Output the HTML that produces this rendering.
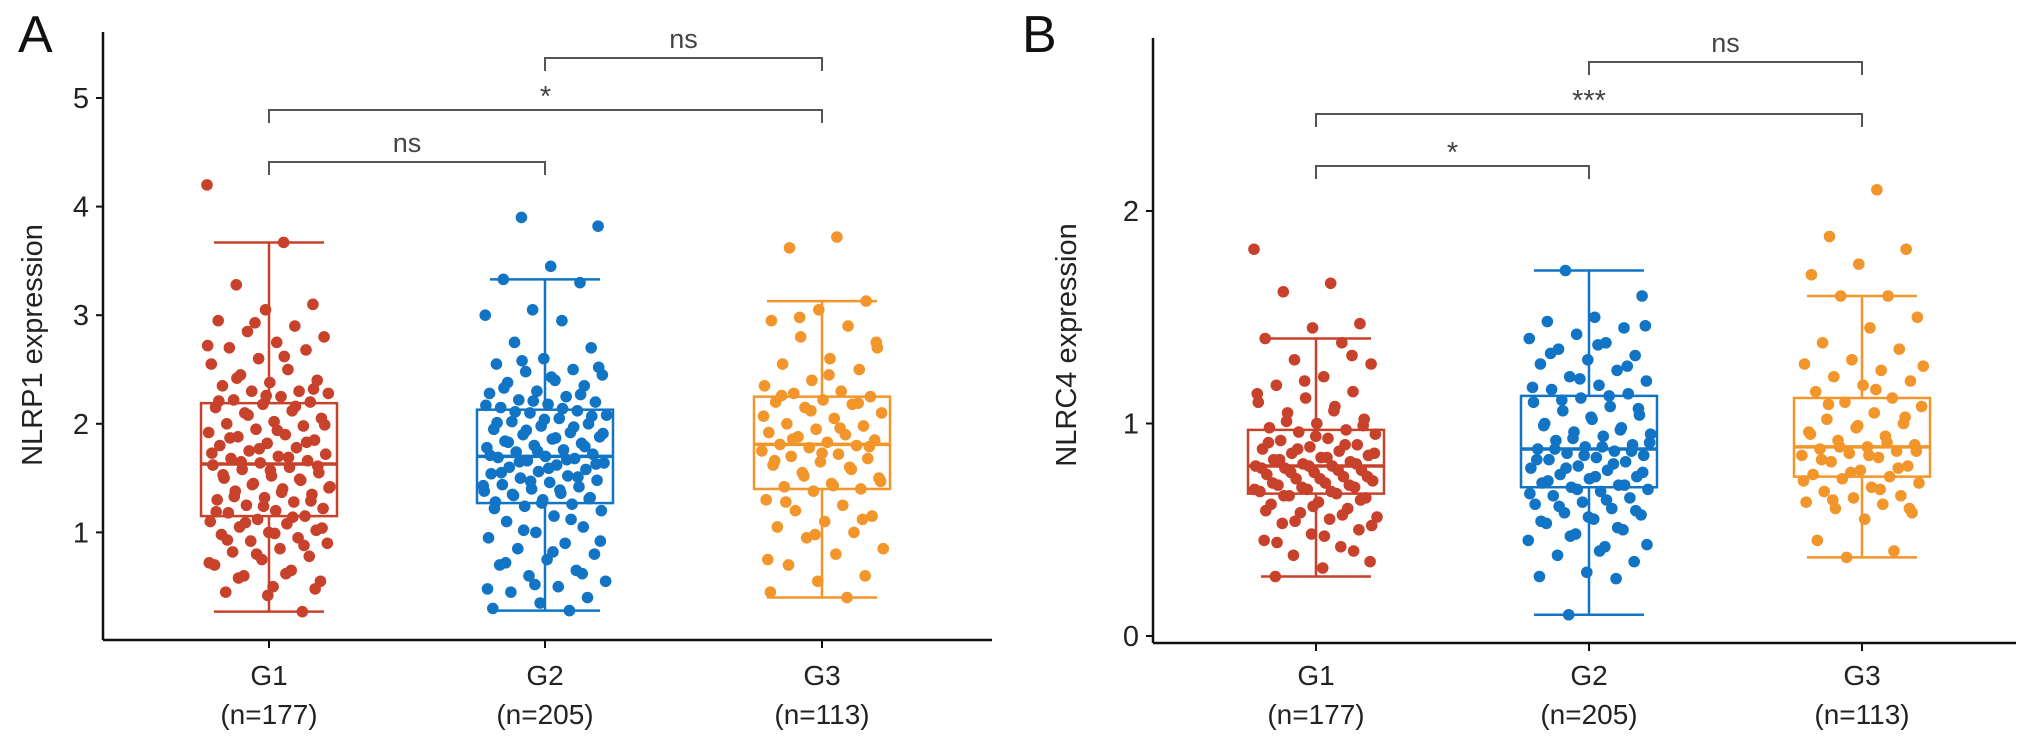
<!DOCTYPE html>
<html><head><meta charset="utf-8"><style>
html,body{margin:0;padding:0;background:#fff;}
svg{display:block;font-family:"Liberation Sans",Arial,sans-serif;}
</style></head><body>
<svg id="fig" width="2032" height="742" viewBox="0 0 2032 742" xmlns="http://www.w3.org/2000/svg"></svg>
<script>
const categories = ["G1","G2","G3"];
const nLabels = ["(n=177)","(n=205)","(n=113)"];
const colors = ["#c8412b","#1274c4","#f2952a"];

// Panel A: NLRP1
const aTicks = [1,2,3,4,5];
const aLow = [0.27,0.28,0.40];
const aQ1 = [1.15,1.27,1.40];
const aMed = [1.63,1.70,1.81];
const aQ3 = [2.19,2.13,2.25];
const aHigh = [3.67,3.33,3.13];
const aG1 = [4.2,3.67,3.28,3.1,3.05,2.95,2.9,2.85,2.8,2.75,2.7,2.68,2.6,2.55,2.5,2.45,2.4,2.38,2.35,2.3,2.3,2.28,2.25,2.22,2.2,2.18,2.15,2.12,2.1,2.05,2.02,2.0,1.98,1.95,1.92,1.9,1.88,1.85,1.82,1.8,1.78,1.75,1.72,1.7,1.68,1.66,1.64,1.62,1.6,1.58,1.55,1.52,1.5,1.48,1.45,1.42,1.4,1.38,1.35,1.32,1.3,1.28,1.25,1.22,1.2,1.18,1.15,1.12,1.1,1.08,1.05,1.02,1.0,0.98,0.95,0.92,0.9,0.85,0.82,0.78,0.75,0.7,0.65,0.6,0.55,0.5,0.45,0.27,
  2.93,2.72,2.62,2.42,2.32,2.26,2.21,2.16,2.08,1.99,1.94,1.87,1.83,1.77,1.73,1.69,1.65,1.61,1.57,1.53,1.49,1.44,1.41,1.37,1.33,1.29,1.24,1.19,1.14,1.09,1.04,0.99,0.93,0.88,0.8,0.72,0.62,0.58,0.48,0.42];
const aG2 = [3.9,3.82,3.45,3.33,3.3,3.05,3.0,2.95,2.75,2.7,2.6,2.55,2.5,2.48,2.45,2.4,2.38,2.35,2.3,2.28,2.25,2.22,2.2,2.18,2.15,2.12,2.1,2.08,2.05,2.02,2.0,1.98,1.95,1.92,1.9,1.88,1.86,1.84,1.82,1.8,1.78,1.76,1.74,1.72,1.7,1.69,1.68,1.66,1.64,1.62,1.6,1.58,1.56,1.54,1.52,1.5,1.48,1.46,1.44,1.42,1.4,1.38,1.36,1.34,1.32,1.3,1.28,1.26,1.24,1.2,1.15,1.1,1.05,1.0,0.95,0.9,0.85,0.8,0.75,0.7,0.65,0.6,0.55,0.5,0.45,0.4,0.35,0.3,0.28,
  2.58,2.52,2.43,2.33,2.27,2.21,2.17,2.14,2.11,2.07,2.04,2.01,1.97,1.94,1.91,1.87,1.83,1.79,1.75,1.71,1.67,1.65,1.63,1.59,1.55,1.51,1.47,1.43,1.39,1.35,1.31,1.27,1.22,1.12,1.02,0.92,0.82,0.72,0.62,0.52,0.48];
const aG3 = [3.72,3.62,3.13,3.05,2.95,2.9,2.8,2.7,2.6,2.55,2.5,2.4,2.35,2.3,2.28,2.25,2.22,2.2,2.18,2.15,2.1,2.05,2.0,1.98,1.95,1.92,1.9,1.88,1.85,1.83,1.81,1.8,1.78,1.75,1.72,1.7,1.68,1.65,1.62,1.6,1.55,1.5,1.45,1.42,1.4,1.38,1.3,1.25,1.2,1.15,1.1,1.05,1.0,0.95,0.85,0.8,0.7,0.6,0.55,0.45,0.4,
  2.98,2.75,2.45,2.26,2.19,2.12,2.07,1.96,1.86,1.79,1.73,1.66,1.58,1.52,1.47,1.43,1.28,1.12,0.98,0.75];
const aSig = ["ns","*","ns"];

// Panel B: NLRC4
const bTicks = [0,1,2];
const bLow = [0.28,0.10,0.37];
const bQ1 = [0.67,0.70,0.75];
const bMed = [0.80,0.88,0.89];
const bQ3 = [0.97,1.13,1.12];
const bHigh = [1.40,1.72,1.60];
const bG1 = [1.82,1.66,1.62,1.47,1.45,1.4,1.38,1.3,1.28,1.22,1.18,1.15,1.12,1.1,1.08,1.05,1.02,1.0,0.98,0.97,0.96,0.95,0.93,0.92,0.9,0.89,0.88,0.87,0.86,0.85,0.84,0.83,0.82,0.81,0.8,0.8,0.79,0.78,0.77,0.76,0.75,0.74,0.73,0.72,0.71,0.7,0.69,0.68,0.67,0.66,0.65,0.63,0.62,0.6,0.58,0.56,0.55,0.53,0.5,0.48,0.45,0.42,0.38,0.35,0.32,0.28,
  1.32,1.2,1.14,1.06,1.01,0.99,0.94,0.91,0.9,0.88,0.86,0.84,0.83,0.81,0.8,0.79,0.78,0.77,0.75,0.74,0.72,0.71,0.7,0.69,0.68,0.66,0.64,0.61,0.59,0.57,0.54,0.52,0.47,0.44,0.4];
const bG2 = [1.72,1.6,1.5,1.48,1.45,1.42,1.4,1.38,1.35,1.32,1.3,1.28,1.25,1.22,1.2,1.18,1.16,1.14,1.12,1.1,1.08,1.06,1.04,1.02,1.0,0.98,0.96,0.95,0.94,0.92,0.9,0.89,0.88,0.87,0.86,0.85,0.84,0.83,0.82,0.8,0.79,0.78,0.76,0.75,0.74,0.72,0.71,0.7,0.69,0.68,0.66,0.65,0.63,0.62,0.6,0.58,0.57,0.55,0.53,0.5,0.48,0.45,0.42,0.38,0.35,0.3,0.28,0.27,0.1,
  1.46,1.37,1.33,1.27,1.21,1.17,1.13,1.11,1.07,1.03,0.99,0.97,0.93,0.91,0.89,0.88,0.87,0.85,0.83,0.81,0.79,0.77,0.75,0.73,0.71,0.69,0.67,0.64,0.61,0.59,0.56,0.54,0.51,0.47,0.43,0.4];
const bG3 = [2.1,1.88,1.82,1.75,1.7,1.6,1.6,1.5,1.45,1.38,1.35,1.3,1.28,1.25,1.22,1.2,1.18,1.15,1.12,1.1,1.08,1.05,1.02,1.0,0.98,0.96,0.94,0.92,0.9,0.89,0.88,0.87,0.86,0.85,0.84,0.82,0.8,0.78,0.76,0.75,0.74,0.72,0.7,0.68,0.66,0.65,0.63,0.62,0.6,0.58,0.55,0.45,0.4,0.37,
  1.27,1.16,1.09,1.03,0.99,0.95,0.91,0.89,0.87,0.85,0.83,0.79,0.77,0.73,0.69,0.64,0.6];
const bSig = ["*","***","ns"];

const svg = document.getElementById('fig');
const NS = "http://www.w3.org/2000/svg";
function mk(tag, attrs, parent, text){
  const e = document.createElementNS(NS, tag);
  for (const k in attrs) e.setAttribute(k, attrs[k]);
  if (text !== undefined) e.textContent = text;
  (parent || svg).appendChild(e);
  return e;
}

function panel(cfg){
  const g = mk('g', {});
  
  
  const y = v => cfg.y0 - v * cfg.ppu;
  const x = i => cfg.xs[i];
  const L = mk('text', {x: cfg.letterX, y: 52, 'font-size': 52, fill: '#111'}, g, cfg.letter);
  
  
  const ya = mk('line', {x1: cfg.axX, x2: cfg.axX, y1: cfg.axTop, y2: cfg.axBot, stroke: '#111', 'stroke-width': 2.5}, g);
  
  
  const xa = mk('line', {x1: cfg.axX, x2: cfg.axRight, y1: cfg.axBot, y2: cfg.axBot, stroke: '#111', 'stroke-width': 2.5}, g);
  
  
  cfg.ticks.forEach(t => {
    mk('line', {x1: cfg.axX - 7, x2: cfg.axX, y1: y(t), y2: y(t), stroke: '#111', 'stroke-width': 2}, g);
    const tl = mk('text', {x: cfg.axX - 14, y: y(t) + 10, 'font-size': 29, 'text-anchor': 'end', fill: '#222'}, g, String(t));
    
    
  });
  const yt = mk('text', {x: 0, y: 0, 'font-size': 29, 'text-anchor': 'middle', fill: '#222',
    transform: 'translate(' + cfg.titleX + ',' + cfg.titleY + ') rotate(-90)'}, g, cfg.title);
  
  
  categories.forEach((c, i) => {
    mk('line', {x1: x(i), x2: x(i), y1: cfg.axBot, y2: cfg.axBot + 8, stroke: '#111', 'stroke-width': 2}, g);
    const cl = mk('text', {x: x(i), y: 685, 'font-size': 28, 'text-anchor': 'middle', fill: '#222'}, g, c);
    
    
    const nl = mk('text', {x: x(i), y: 724, 'font-size': 28, 'text-anchor': 'middle', fill: '#222'}, g, nLabels[i]);
    
    
  });
  const bw = 68, ww = 55;
  categories.forEach((c, i) => {
    const col = colors[i];
    const bg = mk('g', {stroke: col, 'stroke-width': 2.5, fill: 'none'}, g);
    
    
    mk('line', {x1: x(i), x2: x(i), y1: y(cfg.high[i]), y2: y(cfg.q3[i])}, bg);
    mk('line', {x1: x(i), x2: x(i), y1: y(cfg.q1[i]), y2: y(cfg.low[i])}, bg);
    mk('line', {x1: x(i) - ww, x2: x(i) + ww, y1: y(cfg.high[i]), y2: y(cfg.high[i])}, bg);
    mk('line', {x1: x(i) - ww, x2: x(i) + ww, y1: y(cfg.low[i]), y2: y(cfg.low[i])}, bg);
    mk('rect', {x: x(i) - bw, y: y(cfg.q3[i]), width: 2 * bw, height: y(cfg.q1[i]) - y(cfg.q3[i])}, bg);
    mk('line', {x1: x(i) - bw, x2: x(i) + bw, y1: y(cfg.med[i]), y2: y(cfg.med[i]), 'stroke-width': 3.5}, bg);
  });
  cfg.series.forEach((vals, i) => {
    const pg = mk('g', {fill: colors[i]}, g);
    
    
    vals.forEach((v, k) => {
      const off = (((k * 0.6180339 + i * 0.31) % 1) - 0.5) * 2 * 62;
      const p = mk('circle', {cx: x(i) + off, cy: y(v), r: 5.8}, pg);
      
      
    });
  });
  const pairs = [[0,1],[0,2],[1,2]];
  pairs.forEach((pr, j) => {
    const by = cfg.brY[j];
    const bk = mk('g', {}, g);
    
    
    mk('path', {d: 'M' + x(pr[0]) + ' ' + (by + 13) + ' V' + by + ' H' + x(pr[1]) + ' V' + (by + 13),
      stroke: '#555', 'stroke-width': 2, fill: 'none'}, bk);
    const st = cfg.sig[j];
    const ty = st === 'ns' ? by - 10 : by - 4;
    mk('text', {x: (x(pr[0]) + x(pr[1])) / 2, y: ty, 'font-size': st === 'ns' ? 27 : 29, 'text-anchor': 'middle', fill: '#444'}, bk, st);
  });
}

panel({name: 'panel-a-nlrp1', letter: 'A', letterX: 18, axX: 103, axTop: 32, axBot: 640, axRight: 992,
  y0: 641, ppu: 108.6, xs: [269, 545, 822], ticks: aTicks, title: 'NLRP1 expression', titleX: 42, titleY: 345,
  low: aLow, q1: aQ1, med: aMed, q3: aQ3, high: aHigh, series: [aG1, aG2, aG3], sig: aSig, brY: [162, 110, 58]});
panel({name: 'panel-b-nlrc4', letter: 'B', letterX: 1022, axX: 1153, axTop: 38, axBot: 643, axRight: 2016,
  y0: 636, ppu: 212.5, xs: [1316, 1589, 1862], ticks: bTicks, title: 'NLRC4 expression', titleX: 1076, titleY: 345,
  low: bLow, q1: bQ1, med: bMed, q3: bQ3, high: bHigh, series: [bG1, bG2, bG3], sig: bSig, brY: [166, 114, 62]});
</script>
</body></html>
